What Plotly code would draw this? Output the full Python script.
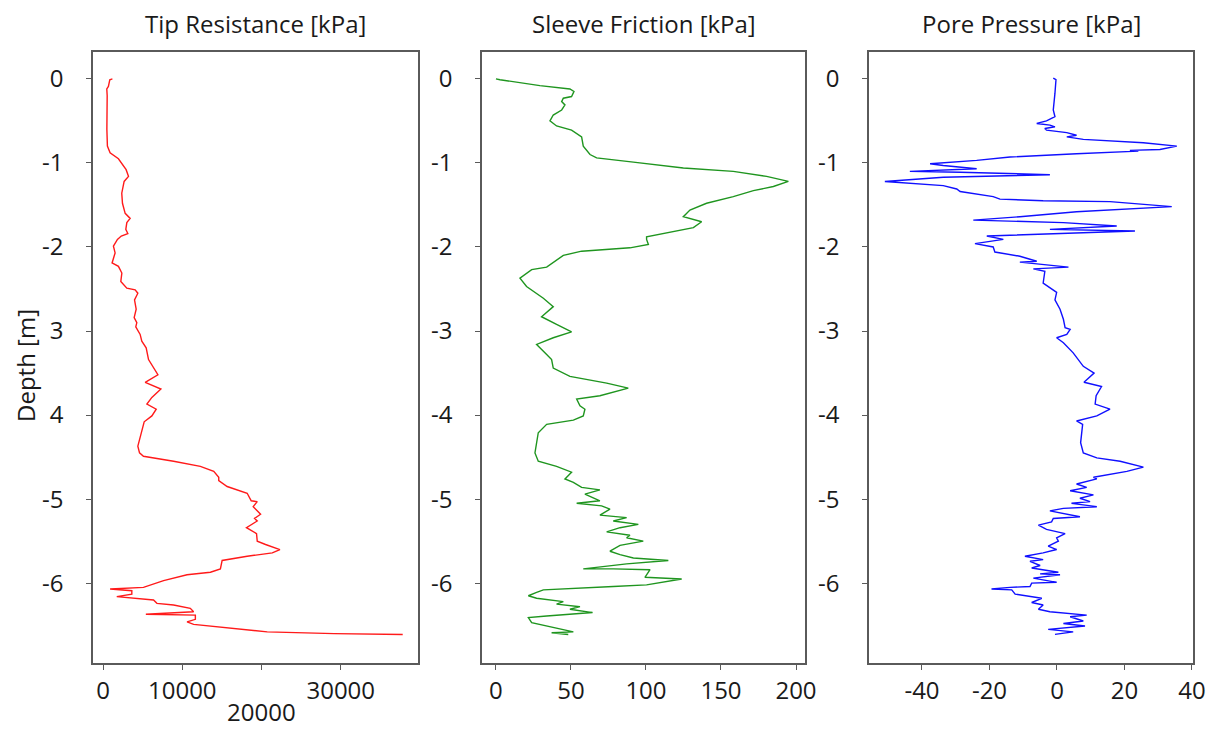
import plotly.graph_objects as go

# ---------------- data ----------------
tip_depth = [0.0, -0.01, -0.09, -0.12, -0.2, -0.4, -0.6, -0.80, -0.88, -0.95, -1.04, -1.08, -1.16, -1.22, -1.36,
             -1.48, -1.60, -1.66, -1.71, -1.79, -1.84, -1.87, -1.91, -1.99, -2.07, -2.19, -2.23, -2.31, -2.41,
             -2.49, -2.51, -2.55, -2.63, -2.74, -2.84, -2.90, -2.95, -3.04, -3.12, -3.20, -3.34, -3.46, -3.52,
             -3.61, -3.69, -3.79, -3.87, -3.93, -4.01, -4.08, -4.25, -4.37, -4.45, -4.49, -4.55, -4.61, -4.67,
             -4.74, -4.78, -4.85, -4.93, -5.02, -5.03, -5.09, -5.18, -5.23, -5.26, -5.34, -5.41, -5.50, -5.54,
             -5.60, -5.64, -5.68, -5.73, -5.83, -5.87, -5.90, -5.97, -6.05, -6.07, -6.09, -6.13, -6.16, -6.20,
             -6.24, -6.26, -6.30, -6.34, -6.37, -6.38, -6.43, -6.46, -6.49, -6.58, -6.60, -6.61]
tip_value = [1180, 850, 675, 470, 520, 470, 480, 547, 886, 1940, 2570, 2910, 3210, 2660, 2360,
             2450, 2790, 3420, 3000, 2870, 3125, 2300, 1815, 1310, 1520, 1140, 1940, 2370, 2240,
             3000, 4050, 4390, 3970, 4180, 3925, 4260, 4130, 4680, 4890, 5440, 5740, 6460, 6920,
             5320, 7300, 6160, 5530, 6710, 6160, 5190, 4680, 4390, 4600, 5100, 8900, 12280, 13970,
             14600, 14600, 15660, 18190, 18700, 19460, 18950, 19880, 19120, 19460, 18100, 19370, 19460, 20510,
             22320, 21360, 18190, 15030, 14810, 13550, 10600, 7640, 5100, 890, 3630, 3630, 1730, 6370,
             6800, 8900, 11010, 11430, 5400, 11650, 11650, 10600, 11430, 20720, 29160, 37820]

sf_depth = [0.0, -0.01, -0.08, -0.12, -0.15, -0.21, -0.23, -0.27, -0.31, -0.37, -0.43, -0.50, -0.56, -0.61,
            -0.69, -0.80, -0.90, -0.94, -0.99, -1.06, -1.10, -1.16, -1.22, -1.28, -1.33, -1.40, -1.48, -1.56,
            -1.64, -1.70, -1.77, -1.83, -1.88, -1.91, -1.97, -2.01, -2.05, -2.10, -2.19, -2.24, -2.27, -2.37,
            -2.47, -2.61, -2.71, -2.83, -2.92, -3.01, -3.08, -3.16, -3.28, -3.34, -3.44, -3.54, -3.62, -3.68,
            -3.77, -3.81, -3.89, -3.93, -4.01, -4.06, -4.11, -4.21, -4.45, -4.55, -4.61, -4.68, -4.76, -4.80,
            -4.86, -4.89, -4.94, -5.02, -5.05, -5.08, -5.12, -5.19, -5.22, -5.26, -5.30, -5.34, -5.39, -5.43,
            -5.46, -5.50, -5.55, -5.62, -5.66, -5.70, -5.73, -5.77, -5.83, -5.83, -5.84, -5.93, -5.95, -6.02,
            -6.04, -6.08, -6.11, -6.15, -6.18, -6.22, -6.25, -6.28, -6.31, -6.35, -6.39, -6.41, -6.47, -6.51,
            -6.58, -6.59, -6.61]
sf_value = [0.0, 2.7, 29.3, 49.3, 52.0, 50.4, 44.9, 43.8, 46.0, 43.8, 38.2, 36.0, 40.4, 50.4,
            57.1, 58.2, 62.7, 67.1, 91.6, 124.9, 158.2, 180.4, 194.9, 184.9, 171.6, 158.2, 140.4, 129.3,
            124.9, 137.1, 131.6, 113.8, 100.4, 100.4, 101.6, 89.3, 57.1, 44.9, 38.2, 33.8, 23.8, 16.0,
            20.4, 31.6, 38.2, 30.4, 40.4, 50.4, 38.2, 27.1, 33.8, 37.1, 38.2, 49.3, 73.8, 88.2,
            69.3, 53.8, 56.0, 59.3, 58.2, 51.6, 33.8, 28.2, 26.0, 28.2, 40.4, 50.4, 46.0, 51.6,
            57.1, 69.3, 59.3, 69.3, 53.8, 70.4, 76.0, 69.3, 87.1, 78.2, 94.9, 82.7, 73.8, 89.3,
            87.1, 98.2, 82.7, 76.0, 82.7, 91.6, 114.9, 87.1, 58.2, 78.2, 102.7, 99.3, 123.8, 100.4,
            78.2, 31.6, 27.1, 21.6, 27.1, 44.9, 40.4, 56.0, 49.3, 64.4, 33.8, 21.6, 23.8, 33.8,
            51.6, 37.1, 48.2]

pp_depth = [0.01, -0.01, -0.17, -0.37, -0.45, -0.50, -0.53, -0.55, -0.57, -0.59, -0.61, -0.64, -0.67, -0.69,
            -0.72, -0.76, -0.80, -0.84, -0.85, -0.86, -0.89, -0.93, -0.97, -1.01, -1.03, -1.07, -1.10, -1.11,
            -1.14, -1.17, -1.22, -1.24, -1.27, -1.31, -1.34, -1.40, -1.43, -1.45, -1.46, -1.52, -1.58, -1.64,
            -1.68, -1.71, -1.75, -1.79, -1.81, -1.87, -1.91, -1.96, -2.00, -2.06, -2.11, -2.17, -2.18, -2.24,
            -2.26, -2.29, -2.43, -2.54, -2.63, -2.74, -2.86, -2.96, -2.98, -3.04, -3.08, -3.14, -3.26, -3.42,
            -3.50, -3.61, -3.66, -3.77, -3.87, -3.93, -4.01, -4.07, -4.11, -4.33, -4.45, -4.51, -4.55, -4.62,
            -4.67, -4.74, -4.76, -4.82, -4.86, -4.90, -4.95, -4.99, -5.03, -5.05, -5.09, -5.11, -5.14, -5.21,
            -5.23, -5.27, -5.31, -5.36, -5.41, -5.46, -5.50, -5.56, -5.60, -5.64, -5.68, -5.72, -5.74, -5.79,
            -5.82, -5.87, -5.89, -5.90, -5.94, -5.99, -6.00, -6.04, -6.05, -6.07, -6.08, -6.13, -6.16, -6.18,
            -6.23, -6.26, -6.31, -6.34, -6.38, -6.40, -6.45, -6.48, -6.51, -6.55, -6.58, -6.61]
pp_value = [-1.1, -0.3, -0.6, -1.1, -0.6, -3.1, -6.0, -2.1, -0.6, -3.6, -3.1, 2.9, 5.8, 2.9,
            7.8, 25.6, 35.5, 30.5, 21.6, 24.1, 5.8, -13.9, -23.8, -37.6, -33.7, -23.8, -43.6, -28.7,
            -2.1, -33.7, -51.0, -43.6, -33.7, -29.7, -28.7, -18.9, -16.9, -4.1, 15.7, 34.0, 5.8, -11.0,
            -24.8, 1.9, 17.7, -2.1, 23.1, -20.8, -15.9, -24.3, -18.9, -18.4, -11.0, -6.0, -11.0, 3.4,
            -7.0, -3.6, -4.1, -0.1, -0.6, 0.9, 1.9, 2.4, 3.9, 2.9, -0.1, 1.9, 4.8, 7.8,
            11.0, 8.0, 13.2, 11.6, 11.3, 15.7, 11.8, 5.8, 7.6, 7.0, 7.8, 11.8, 18.7, 25.6,
            20.7, 10.8, 11.8, 5.8, 8.8, 3.9, 10.8, 6.8, 9.8, 4.3, 11.8, 1.9, -2.1, 6.8,
            -1.1, -1.6, -5.5, -3.1, 2.4, -0.1, 0.4, -2.6, -0.1, -4.1, -9.5, -4.1, -8.0, -5.0,
            -7.5, 0.4, -5.0, 0.9, -7.0, -0.1, -7.5, -8.0, -13.9, -19.4, -13.4, -12.4, -8.0, -4.5,
            -7.5, -4.1, -5.5, -2.1, 8.8, 3.9, 7.8, 1.9, 8.3, -2.6, 4.8, -0.6]

panel_titles = ["Tip Resistance [kPa]", "Sleeve Friction [kPa]", "Pore Pressure [kPa]"]
y_label = "Depth [m]"
y_tickvals = [0, -1, -2, -3, -4, -5, -6]
y_ticktext_1 = ["0", "-1", "-2", "3", "4", "-5", "-6"]
y_ticktext_23 = ["0", "-1", "-2", "-3", "-4", "-5", "-6"]
x1_tickvals = [0, 10000, 20000, 30000]
x1_ticktext = ["0", "10000", "20000", "30000"]
x1_lower_row = [False, False, True, False]   # label drawn on a second, lower row
x2_tickvals = [0, 50, 100, 150, 200]
x3_tickvals = [-40, -20, 0, 20, 40]

# ---------------- layout ----------------
W, H = 1213, 729
FONT = "Open Sans"
FS = 24
AXC = "#5a5a5a"
TXT = "#1a1a1a"

px = lambda x: x / W
py = lambda y: 1 - y / H

doms = [(px(93), px(418)), (px(482), px(805)), (px(869), px(1193))]
ydom = [py(663), py(52)]
xranges = [[-1270, 39750], [-9.3, 206], [-55.7, 40.3]]
yrange = [-6.95, 0.32]

fig = go.Figure()
series = [(tip_value, tip_depth, "#ff1a1a"), (sf_value, sf_depth, "#1f951f"), (pp_value, pp_depth, "#1010ff")]
for i, (xv, yv, c) in enumerate(series):
    sfx = "" if i == 0 else str(i + 1)
    fig.add_trace(go.Scatter(x=xv, y=yv, mode="lines", line=dict(color=c, width=1.4),
                             xaxis="x" + sfx, yaxis="y" + sfx, showlegend=False))

common = dict(showline=True, mirror=True, linecolor=AXC, linewidth=1.5, ticks="outside",
              ticklen=5, tickcolor=AXC, tickwidth=1.2, showgrid=False, zeroline=False,
              tickfont=dict(family=FONT, size=FS, color=TXT), automargin=False)

x1_shown = ["" if low else t for t, low in zip(x1_ticktext, x1_lower_row)]
xtick = [dict(tickvals=x1_tickvals, ticktext=x1_shown),
         dict(tickvals=x2_tickvals, ticktext=[str(v) for v in x2_tickvals]),
         dict(tickvals=x3_tickvals, ticktext=[str(v) for v in x3_tickvals])]

lay = {}
for i in range(3):
    sfx = "" if i == 0 else str(i + 1)
    lay["xaxis" + sfx] = dict(domain=list(doms[i]), range=xranges[i], anchor="y" + sfx,
                              tickmode="array", ticklabelstandoff=0, **xtick[i], **common)
    lay["yaxis" + sfx] = dict(domain=ydom, range=yrange, anchor="x" + sfx, tickmode="array",
                              tickvals=y_tickvals,
                              ticktext=y_ticktext_1 if i == 0 else y_ticktext_23,
                              ticklabelstandoff=18, **common)

annotations = []
for i, t in enumerate(panel_titles):
    annotations.append(dict(text=t, x=(doms[i][0] + doms[i][1]) / 2, y=py(23), xref="paper", yref="paper",
                            xanchor="center", yanchor="middle", showarrow=False,
                            font=dict(family=FONT, size=FS, color=TXT)))
annotations.append(dict(text=y_label, x=px(25), y=py(366), xref="paper", yref="paper", textangle=-90,
                        xanchor="center", yanchor="middle", showarrow=False,
                        font=dict(family=FONT, size=FS, color=TXT)))
for v, t, low in zip(x1_tickvals, x1_ticktext, x1_lower_row):
    if low:
        annotations.append(dict(text=t, x=v, xref="x", y=0, yref="paper", xanchor="center",
                                yanchor="bottom", showarrow=False, borderpad=0,
                                font=dict(family=FONT, size=FS, color=TXT)))

fig.update_layout(width=W, height=H, margin=dict(l=0, r=0, t=0, b=0), plot_bgcolor="white",
                  paper_bgcolor="white", annotations=annotations, **lay)

fig.write_html("out.html", config={"displayModeBar": False},
               post_script="document.body.style.margin='0';document.body.style.overflow='hidden';")
